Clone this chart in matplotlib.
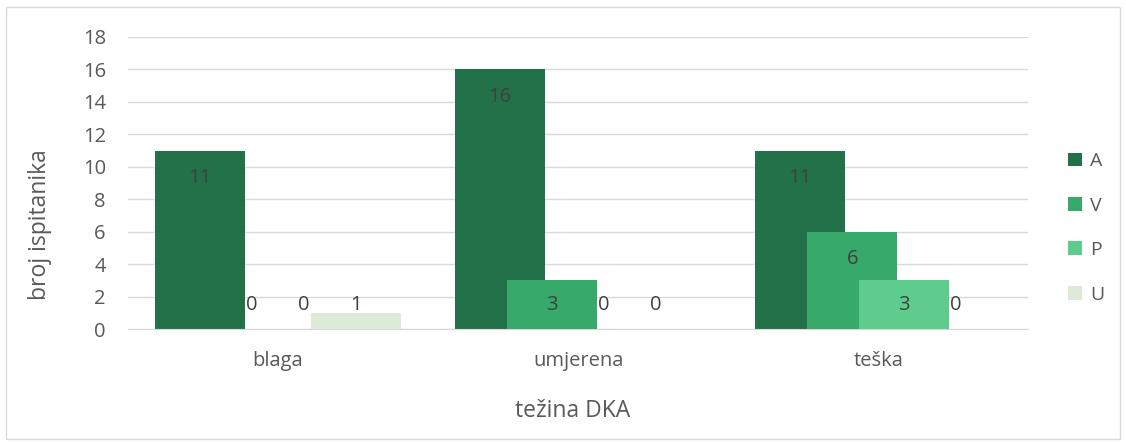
import numpy as np
import matplotlib.pyplot as plt
from matplotlib.patches import Rectangle

# data
categories = ['blaga', 'umjerena', 'teška']
series_names = ['A', 'V', 'P', 'U']
A = [11, 16, 11]
V = [0, 3, 6]
P = [0, 0, 3]
U = [1, 0, 0]

colors = ['#237148', '#37A96A', '#5ECC8D', '#DEEAD8']

plt.rcParams['font.family'] = ['Open Sans', 'DejaVu Sans']

fig = plt.figure(figsize=(11.26, 4.43), dpi=100)
ax = fig.add_axes([0.1137, 0.2573, 0.7994, 0.6592])

x = np.arange(len(categories))
width = 0.3
step = 0.1733
for i, (name, vals) in enumerate(zip(series_names, [A, V, P, U])):
    pos = x + (i - 1.5) * step
    ax.bar(pos, vals, width=width, color=colors[i], label=name, zorder=2 + i)
    for px_, v in zip(pos, vals):
        # labels sit inside the top of the bar, short bars get them just above the axis
        ly = max(v - 1.7, 1.5)
        ax.text(px_, ly, str(v), ha='center', va='center', fontsize=14.5,
                color='#404040', zorder=10)

ax.set_xlim(-0.5, 2.5)
ax.set_ylim(0, 18)
ax.set_yticks(range(0, 19, 2))
ax.set_xticks(x)
ax.set_xticklabels(categories)
ax.yaxis.grid(True, color='#D9D9D9', linewidth=1, zorder=0)
ax.set_axisbelow(True)
for s in ['top', 'right', 'left']:
    ax.spines[s].set_visible(False)
ax.spines['bottom'].set_color('#D9D9D9')
ax.tick_params(axis='both', length=0, labelsize=14.5, labelcolor='#595959')
ax.tick_params(axis='y', pad=16)
ax.tick_params(axis='x', pad=16)

ax.set_ylabel('broj ispitanika', fontsize=16.5, color='#595959', va='center')
ax.yaxis.set_label_coords(-0.098, 0.356)
ax.set_xlabel('težina DKA', fontsize=16.5, color='#595959', va='center')
ax.xaxis.set_label_coords(0.494, -0.281)

leg = ax.legend(loc='center left', bbox_to_anchor=(1.025, 0.346), frameon=False,
                fontsize=14, labelcolor='#595959', handlelength=0.72,
                handleheight=0.72, handletextpad=0.4, labelspacing=1.36)

fig.patches.append(Rectangle((0.005, 0.01), 0.99, 0.975, transform=fig.transFigure,
                             fill=False, edgecolor='#D9D9D9', linewidth=1))

fig.savefig('out.png', dpi=100)
